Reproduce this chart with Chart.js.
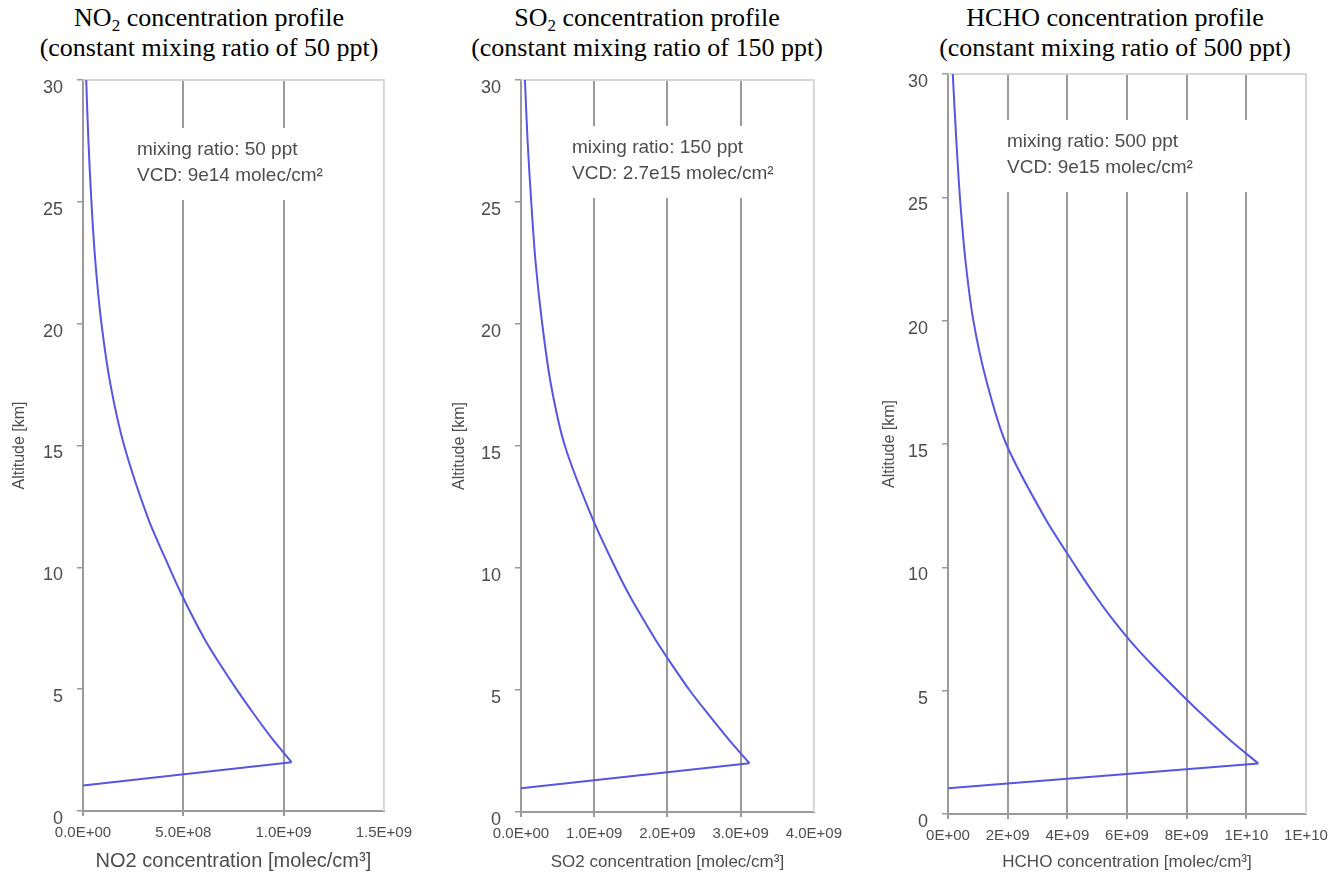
<!DOCTYPE html>
<html>
<head>
<meta charset="utf-8">
<script src="https://cdn.jsdelivr.net/npm/chart.js@4.4.1/dist/chart.umd.min.js"></script>
<style>
  body { margin: 0; background: #fff; width: 1341px; height: 885px; position: relative; overflow: hidden; }
  .ttl { position: absolute; top: 3px; width: 420px; text-align: center; color: #000;
         font-family: "Liberation Serif", "Times New Roman", serif; font-size: 26px; line-height: 30px; }
  .ttl sub { font-size: 17px; line-height: 0; vertical-align: -5px; }
  .box { position: absolute; top: 64px; height: 821px; }
</style>
</head>
<body>
<div class="ttl" style="left:-1px">NO<sub>2</sub> concentration profile<br>(constant mixing ratio of 50 ppt)</div>
<div class="ttl" style="left:437px">SO<sub>2</sub> concentration profile<br>(constant mixing ratio of 150 ppt)</div>
<div class="ttl" style="left:905px">HCHO concentration profile<br>(constant mixing ratio of 500 ppt)</div>

<div class="box" style="left:0;width:420px"><canvas id="no2Chart"></canvas></div>
<div class="box" style="left:440px;width:410px"><canvas id="so2Chart"></canvas></div>
<div class="box" style="left:870px;width:471px"><canvas id="hchoChart"></canvas></div>

<script>
// altitude [km] and concentration [molec/cm3]
// (first point = surface end of the ramp, second = peak at ~2 km)
const no2Alt   = [1.05, 2.0, 3, 4, 5, 6, 7, 8, 9, 10, 12, 15, 17.5, 20, 22.5, 25, 27.5, 30];
const no2Conc  = [0, 1.04e9, 0.94e9, 0.85e9, 0.765e9, 0.685e9, 0.61e9, 0.545e9, 0.485e9, 0.43e9,
                  0.325e9, 0.205e9, 0.137e9, 0.092e9, 0.062e9, 0.042e9, 0.027e9, 0.016e9];
const so2Alt   = [0.97, 2.0, 3, 4, 5, 6, 7, 8, 9, 10, 12, 15, 17.5, 20, 22.5, 25, 27.5, 30];
const so2Conc  = [0, 3.12e9, 2.83e9, 2.56e9, 2.30e9, 2.07e9, 1.85e9, 1.65e9, 1.46e9, 1.29e9,
                  0.98e9, 0.60e9, 0.41e9, 0.29e9, 0.20e9, 0.14e9, 0.09e9, 0.054e9];
const hchoAlt  = [1.04, 2.05, 3, 4, 5, 6, 7, 8, 9, 10, 12, 15, 17.5, 20, 22.5, 25, 27.5, 30];
const hchoConc = [0, 10.4e9, 9.45e9, 8.55e9, 7.7e9, 6.88e9, 6.12e9, 5.45e9, 4.85e9, 4.3e9,
                  3.25e9, 1.95e9, 1.3e9, 0.85e9, 0.58e9, 0.40e9, 0.27e9, 0.16e9];

// tick labels
const altTicks   = ['0', '5', '10', '15', '20', '25', '30'];
const no2XTicks  = ['0.0E+00', '5.0E+08', '1.0E+09', '1.5E+09'];
const so2XTicks  = ['0.0E+00', '1.0E+09', '2.0E+09', '3.0E+09', '4.0E+09'];
const hchoXTicks = ['0E+00', '2E+09', '4E+09', '6E+09', '8E+09', '1E+10', '1E+10'];

Chart.defaults.font.family = '"Liberation Sans", Arial, sans-serif';
Chart.defaults.color = '#4d4d4d';

const LINE = '#5555e6';
const GRID = '#9a9a9a';

// note box + light frame on top/right of the plot
const notePlugin = {
    id: 'note',
    beforeDatasetsDraw(chart, args, o) {
        const { ctx, chartArea: a } = chart;
        ctx.save();
        ctx.fillStyle = '#fff';
        ctx.fillRect(a.left + o.dx - 6, a.top + o.dy - 22, a.right - a.left - o.dx + 4, o.gap + 46);
        ctx.strokeStyle = '#d6d6d6';
        ctx.lineWidth = 2;
        ctx.beginPath();
        ctx.moveTo(a.left, a.top);
        ctx.lineTo(a.right, a.top);
        ctx.lineTo(a.right, a.bottom);
        ctx.stroke();
        ctx.fillStyle = '#4d4d4d';
        ctx.font = o.size + 'px "Liberation Sans", Arial, sans-serif';
        ctx.textBaseline = 'middle';
        o.lines.forEach((t, i) => ctx.fillText(t, a.left + o.dx, a.top + o.dy + i * o.gap));
        ctx.restore();
    }
};

function makeProfile(id, alt, conc, xTicks, step, xTitle, xTitleSize, note, box) {
    const pts = alt.map((a, i) => ({ x: conc[i], y: a }));
    const xMax = step * (xTicks.length - 1);

    new Chart(document.getElementById(id), {
        type: 'scatter',
        data: {
            datasets: [
                // surface layer: straight ramp up to the profile peak
                { data: pts.slice(0, 2), showLine: true, tension: 0, borderColor: LINE, borderWidth: 2, pointRadius: 0 },
                // profile above the peak
                { data: pts.slice(1), showLine: true, tension: 0.3, borderColor: LINE, borderWidth: 2, pointRadius: 0 }
            ]
        },
        options: {
            responsive: true,
            maintainAspectRatio: false,
            animation: false,
            layout: { padding: { top: box.padTop, right: box.padRight, left: 0, bottom: 0 } },
            plugins: {
                legend: { display: false },
                tooltip: { enabled: false },
                note: { lines: note, dx: box.noteX, dy: box.noteY, gap: 26, size: 19 }
            },
            scales: {
                x: {
                    type: 'linear', min: 0, max: xMax,
                    afterFit: s => { s.height = box.axisH; },
                    afterBuildTicks: s => { s.ticks = xTicks.map((_, i) => ({ value: i * step })); },
                    ticks: { callback: (v, i) => xTicks[i], font: { size: 15 }, padding: 8, maxRotation: 0, autoSkip: false },
                    grid: {
                        color: c => (c.tick && c.tick.value >= xMax - 1) ? 'rgba(0,0,0,0)' : GRID,
                        lineWidth: 2, tickLength: 5
                    },
                    border: { color: GRID, width: 2 },
                    title: { display: true, text: xTitle, font: { size: xTitleSize }, padding: { top: 0, bottom: 12 } }
                },
                y: {
                    type: 'linear', min: 0, max: 30,
                    afterFit: s => { s.width = box.axisW; s.paddingTop = 0; s.paddingBottom = 0; },
                    afterBuildTicks: s => { s.ticks = altTicks.map(t => ({ value: +t })); },
                    ticks: { callback: (v, i) => altTicks[i], font: { size: 18 }, padding: 14, labelOffset: 8 },
                    grid: { drawOnChartArea: false, color: GRID, lineWidth: 1.5, tickLength: 6 },
                    border: { color: GRID, width: 2 },
                    title: { display: true, text: 'Altitude [km]', font: { size: 16 }, padding: { top: 10, bottom: 0 } }
                }
            }
        },
        plugins: [notePlugin]
    });
}

makeProfile('no2Chart', no2Alt, no2Conc, no2XTicks, 0.5e9, 'NO2 concentration [molec/cm³]', 20,
    ['mixing ratio: 50 ppt', 'VCD: 9e14 molec/cm²'],
    { axisW: 83, axisH: 74, padTop: 16, padRight: 28, noteX: 54, noteY: 70 });

makeProfile('so2Chart', so2Alt, so2Conc, so2XTicks, 1e9, 'SO2 concentration [molec/cm³]', 17,
    ['mixing ratio: 150 ppt', 'VCD: 2.7e15 molec/cm²'],
    { axisW: 81, axisH: 73, padTop: 16, padRight: 30, noteX: 51, noteY: 68 });

makeProfile('hchoChart', hchoAlt, hchoConc, hchoXTicks, 2e9, 'HCHO concentration [molec/cm³]', 17,
    ['mixing ratio: 500 ppt', 'VCD: 9e15 molec/cm²'],
    { axisW: 78, axisH: 71, padTop: 10, padRight: 35, noteX: 59, noteY: 68 });
</script>
</body>
</html>
